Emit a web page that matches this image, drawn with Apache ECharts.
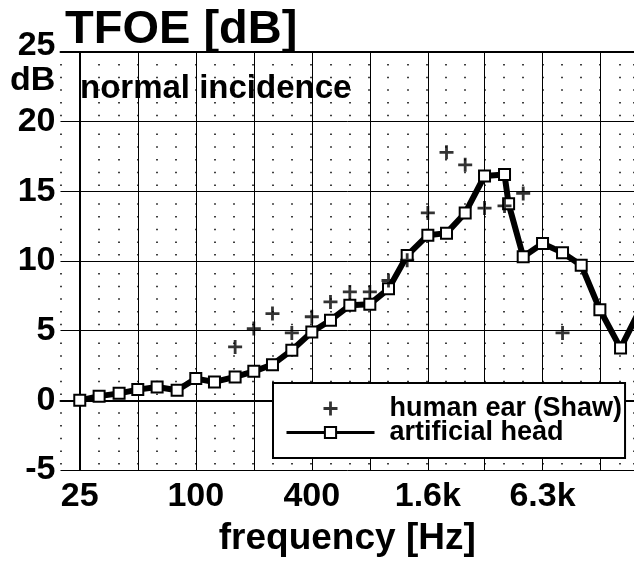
<!DOCTYPE html>
<html>
<head>
<meta charset="utf-8">
<script src="https://cdn.jsdelivr.net/npm/echarts@6/dist/echarts.min.js"></script>
<style>html,body{margin:0;padding:0;background:#fff}#c{width:634px;height:561px}</style>
</head>
<body>
<div id="c"></div>
<script>
// artificial head (third-octave bands, Hz) and TFOE values (dB)
const headFreqs = [25, 31.5, 40, 50, 63, 80, 100, 125, 160, 200, 250, 315, 400, 500, 630, 800, 1000, 1250, 1600, 2000, 2500, 3150, 4000, 4200, 5000, 6300, 8000, 10000, 12500, 16000, 20000];
const headDb = [0.0, 0.3, 0.5, 0.77, 0.96, 0.72, 1.56, 1.32, 1.68, 2.08, 2.56, 3.6, 4.9, 5.75, 6.82, 6.9, 8.0, 10.4, 11.85, 12.0, 13.45, 16.1, 16.2, 14.1, 10.3, 11.25, 10.6, 9.7, 6.5, 3.75, 6.4];
// human ear (Shaw)
const earFreqs = [160, 200, 250, 315, 400, 500, 630, 800, 1000, 1250, 1600, 2000, 2500, 3150, 4000, 5000, 8000];
const earDb = [3.83, 5.15, 6.23, 4.84, 6.0, 7.06, 7.78, 7.78, 8.6, 10.06, 13.45, 17.8, 16.9, 13.8, 13.95, 14.85, 4.84];
// octave grid lines and x tick labels
const octaveFreqs = [25, 50, 100, 200, 400, 800, 1600, 3150, 6300, 12500];
const tickFreqs = [25, 100, 400, 1600, 6300];
const tickLabels = ['25', '100', '400', '1.6k', '6.3k'];

const FONT = "'Liberation Sans', Arial, Helvetica, sans-serif";
// frequency -> third-octave band number relative to 25 Hz (log frequency scale, base-10 thirds)
const toBand = f => 10 * Math.log10(f / 25);
const X_MIN = -1, X_MAX = 28.76;
const plusPath = 'path://M0,5.6H14V8.4H0Z M5.6,0H8.4V14H5.6Z';

const chart = echarts.init(document.getElementById('c'), null, {renderer: 'canvas'});
const txt = (size) => ({fontSize: size, fontWeight: 'bold', fontFamily: FONT, color: '#000'});

chart.setOption({
  animation: false,
  backgroundColor: '#fff',
  title: [
    {text: 'TFOE [dB]', left: 65, top: 7, padding: 0, textStyle: txt(47)},
    {text: 'normal incidence', left: 80, top: 72, padding: 0, textStyle: txt(33)},
    {text: 'dB', left: 10, top: 64, padding: 0, textStyle: txt(34)}
  ],
  grid: {left: 60.5, right: 0, top: 52, bottom: 91, containLabel: false, outerBoundsMode: 'none'},
  legend: {
    orient: 'vertical', left: 273, top: 383,
    backgroundColor: '#fff', borderColor: '#000', borderWidth: 2,
    padding: [12, 3, 12, 12], itemGap: -3, itemWidth: 88, itemHeight: 14,
    selectedMode: false,
    lineStyle: {width: 3},
    textStyle: Object.assign(txt(27), {padding: [0, 0, 0, 10]}),
    data: ['human ear (Shaw)', 'artificial head']
  },
  xAxis: [
    {
      type: 'value', min: X_MIN, max: X_MAX, position: 'bottom',
      axisLine: {show: true, lineStyle: {color: '#000', width: 2}},
      axisTick: {show: false, customValues: octaveFreqs.map(toBand)},
      splitLine: {show: true, lineStyle: {color: '#000', width: 1}},
      axisLabel: Object.assign(txt(34), {
        margin: 10,
        customValues: tickFreqs.map(toBand),
        formatter: v => {
          for (let i = 0; i < tickFreqs.length; i++) {
            if (Math.abs(toBand(tickFreqs[i]) - v) < 0.15) return tickLabels[i];
          }
          return '';
        }
      }),
      name: 'frequency [Hz]', nameLocation: 'middle', nameGap: 50,
      nameTextStyle: txt(37)
    },
    {
      type: 'value', min: X_MIN, max: X_MAX, interval: 1, position: 'top',
      axisLine: {show: true, lineStyle: {color: '#000', width: 2}},
      axisTick: {show: false}, axisLabel: {show: false},
      splitLine: {show: true, lineStyle: {color: '#000', width: 1.5,
        type: [1.5, 11.2, 1.5, 11.2, 1.5, 11.2, 1.5, 11.2, 1.5, 17.367], dashOffset: 57.72}}
    }
  ],
  yAxis: {
    type: 'value', min: -5, max: 25, interval: 5,
    axisLine: {show: true, lineStyle: {color: '#000', width: 2}},
    axisTick: {show: false},
    splitLine: {show: true, lineStyle: {color: '#000', width: 1}},
    axisLabel: Object.assign(txt(34), {
      margin: 5,
      formatter: v => (v === 25 ? '{top|25}' : String(v)),
      rich: {top: Object.assign(txt(34), {padding: [0, 0, 12, 0]})}
    })
  },
  series: [
    {
      name: 'human ear (Shaw)', type: 'scatter', xAxisIndex: 0, z: 4,
      symbol: plusPath, symbolSize: 14,
      itemStyle: {color: '#000'},
      data: earFreqs.map((f, i) => [toBand(f), earDb[i]])
    },
    {
      name: 'artificial head', type: 'line', xAxisIndex: 0, z: 3,
      symbol: 'emptyRect', symbolSize: 11, showAllSymbol: true,
      itemStyle: {color: '#000', borderWidth: 2},
      lineStyle: {color: '#000', width: 6},
      data: headFreqs.map((f, i) => [toBand(f), headDb[i]])
    }
  ]
});
</script>
</body>
</html>
